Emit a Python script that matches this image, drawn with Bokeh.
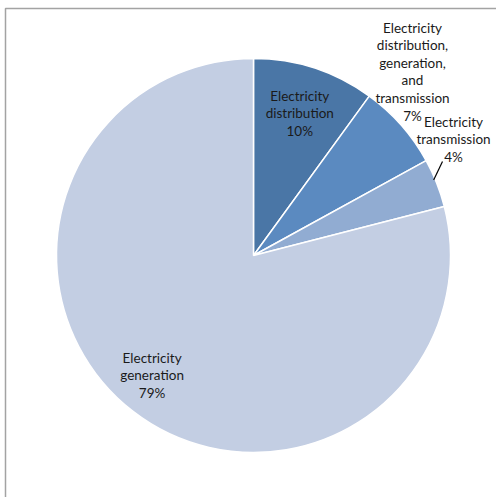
import math

from bokeh.core.properties import value
from bokeh.embed import file_html
from bokeh.models import ColumnDataSource, Range1d
from bokeh.plotting import figure
from bokeh.resources import INLINE

# Share of each activity (percent), clockwise from 12 o'clock
categories = [
    "Electricity distribution",
    "Electricity distribution, generation, and transmission",
    "Electricity transmission",
    "Electricity generation",
]
shares = [10, 7, 4, 79]
label_lines = [
    "Electricity\ndistribution",
    "Electricity\ndistribution,\ngeneration,\nand\ntransmission",
    "Electricity\ntransmission",
    "Electricity\ngeneration",
]
colors = ["#4a76a6", "#5b8ac0", "#91acd2", "#c3cee3"]

W, H = 496, 497
CX, CY = 253, H - 255   # pie centre in data units (1 unit = 1 px)
R = 197

p = figure(
    width=W, height=H,
    x_range=Range1d(0, W), y_range=Range1d(0, H),
    output_backend="svg", toolbar_location=None,
    min_border=0, outline_line_color=None,
)
p.axis.visible = False
p.grid.visible = False
p.background_fill_color = "white"
p.border_fill_color = "white"

# frame around the chart area (runs past the right/bottom edge)
p.line(x=[5, 5, W + 5], y=[-5, H - 8, H - 8], line_color="#a3a3a3", line_width=1.5)

# wedge angles, clockwise from the top
total = sum(shares)
starts, ends, mids = [], [], []
acc = 0.0
for s in shares:
    a0 = math.pi / 2 - 2 * math.pi * acc / total
    acc += s
    a1 = math.pi / 2 - 2 * math.pi * acc / total
    starts.append(a0)
    ends.append(a1)
    mids.append((a0 + a1) / 2)

src = ColumnDataSource(dict(
    cat=categories, share=shares, start=starts, end=ends, color=colors,
    x=[CX] * len(shares), y=[CY] * len(shares),
))
p.wedge(x="x", y="y", radius=R, start_angle="start", end_angle="end",
        direction="clock", fill_color="color", line_color="white",
        line_width=1.5, source=src)

# label placement: radius factor along each slice's mid angle
placement = [0.76, 1.22, 1.18, 0.79]
lx, ly, txt = [], [], []
for i, rf in enumerate(placement):
    a = mids[i]
    lx.append(CX + rf * R * math.cos(a))
    ly.append(CY + rf * R * math.sin(a))
    txt.append(f"{label_lines[i]}\n{shares[i]}%")

# the two outside labels sit above-right of their slices
lx[1], ly[1] = 412, H - 71
lx[2], ly[2] = 453, H - 139
# the large slice's label is pulled a little left and up
lx[3] -= 6
ly[3] += 3

p.text(x=lx, y=ly, text=txt, text_align="center", text_baseline="middle",
       text_font=value("Lato"), text_font_size="13.5px", text_color="#1a1a1a",
       text_line_height=1.1)

# leader line for the small transmission slice
a = mids[2]
p.line(x=[CX + R * math.cos(a) - 3, 442], y=[CY + R * math.sin(a) + 3, H - 161],
       line_color="black", line_width=1.2)

open("out.html", "w").write(file_html(p, INLINE))
